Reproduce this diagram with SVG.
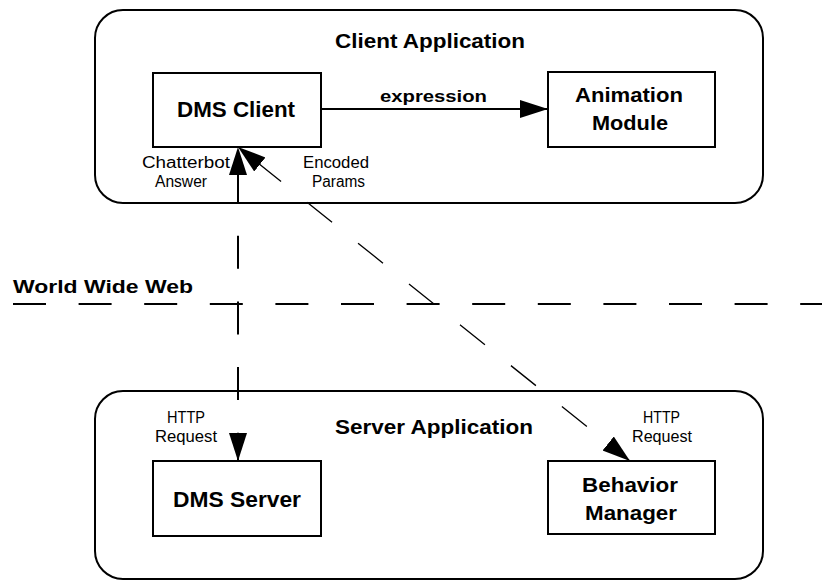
<svg xmlns="http://www.w3.org/2000/svg" width="822" height="581" viewBox="0 0 822 581">
<style>
.bg{fill:#ffffff}
.cont{fill:none;stroke:#000;stroke-width:2}
.box{fill:#fff;stroke:#000;stroke-width:2}
.t{font-family:"Liberation Sans",Arial,sans-serif;font-weight:bold;fill:#000}
.s{font-family:"Liberation Sans",Arial,sans-serif;font-weight:normal;fill:#000;font-size:16px}
.conn{fill:none;stroke:#000}
</style>
<defs>
<marker id="ah" markerUnits="userSpaceOnUse" markerWidth="30" markerHeight="20" refX="28" refY="9" orient="auto-start-reverse">
<path d="M0,0 L28,9 L0,18 z" fill="#000"/>
</marker>
</defs>
<rect class="bg" x="0" y="0" width="822" height="581"/>
<g id="client-application">
<rect class="cont" x="95" y="10" width="668" height="193" rx="28" ry="28"/>
<text class="t" x="335" y="48" font-size="21" textLength="190" lengthAdjust="spacingAndGlyphs">Client Application</text>
</g>
<g id="server-application">
<rect class="cont" x="95" y="391" width="668" height="188" rx="28" ry="28"/>
<text class="t" x="335" y="434" font-size="21" textLength="198" lengthAdjust="spacingAndGlyphs">Server Application</text>
</g>
<g id="www">
<text class="t" x="13" y="293" font-size="19" textLength="180" lengthAdjust="spacingAndGlyphs">World Wide Web</text>
</g>
<g id="connectors">
<line class="conn" x1="13" y1="304" x2="822" y2="304" stroke-width="2" stroke-dasharray="33 32.6"/>
<line class="conn" x1="321" y1="109" x2="548" y2="109" stroke-width="2" marker-end="url(#ah)"/>
<line class="conn" x1="238" y1="147" x2="238" y2="461" stroke-width="2" stroke-dasharray="33 32.7" stroke-dashoffset="42.7" marker-start="url(#ah)" marker-end="url(#ah)"/>
<line class="conn" x1="238" y1="147" x2="630" y2="461" stroke-width="1.3" stroke-dasharray="32 33.3" stroke-dashoffset="42.1" marker-start="url(#ah)" marker-end="url(#ah)"/>
<text class="t" x="380" y="102" font-size="17" textLength="107" lengthAdjust="spacingAndGlyphs">expression</text>
<text class="s" x="142" y="168" textLength="88" lengthAdjust="spacingAndGlyphs">Chatterbot</text>
<text class="s" x="155" y="187" textLength="52" lengthAdjust="spacingAndGlyphs">Answer</text>
<text class="s" x="303" y="168" textLength="66" lengthAdjust="spacingAndGlyphs">Encoded</text>
<text class="s" x="312" y="187" textLength="53" lengthAdjust="spacingAndGlyphs">Params</text>
<text class="s" x="167" y="423" textLength="38" lengthAdjust="spacingAndGlyphs">HTTP</text>
<text class="s" x="155" y="442" textLength="62" lengthAdjust="spacingAndGlyphs">Request</text>
<text class="s" x="643" y="423" textLength="37" lengthAdjust="spacingAndGlyphs">HTTP</text>
<text class="s" x="632" y="442" textLength="60" lengthAdjust="spacingAndGlyphs">Request</text>
</g>
<g id="dms-client">
<rect class="box" x="153" y="73" width="168" height="74"/>
<text class="t" x="177" y="117" font-size="22" textLength="118" lengthAdjust="spacingAndGlyphs">DMS Client</text>
</g>
<g id="animation-module">
<rect class="box" x="548" y="72" width="167" height="75"/>
<text class="t" x="575" y="102" font-size="21" textLength="108" lengthAdjust="spacingAndGlyphs">Animation</text>
<text class="t" x="592" y="130" font-size="21" textLength="76" lengthAdjust="spacingAndGlyphs">Module</text>
</g>
<g id="dms-server">
<rect class="box" x="153" y="461" width="168" height="75"/>
<text class="t" x="173" y="507" font-size="22" textLength="128" lengthAdjust="spacingAndGlyphs">DMS Server</text>
</g>
<g id="behavior-manager">
<rect class="box" x="548" y="461" width="167" height="73"/>
<text class="t" x="582" y="492" font-size="20" textLength="96" lengthAdjust="spacingAndGlyphs">Behavior</text>
<text class="t" x="585" y="520" font-size="20" textLength="92" lengthAdjust="spacingAndGlyphs">Manager</text>
</g>
</svg>
